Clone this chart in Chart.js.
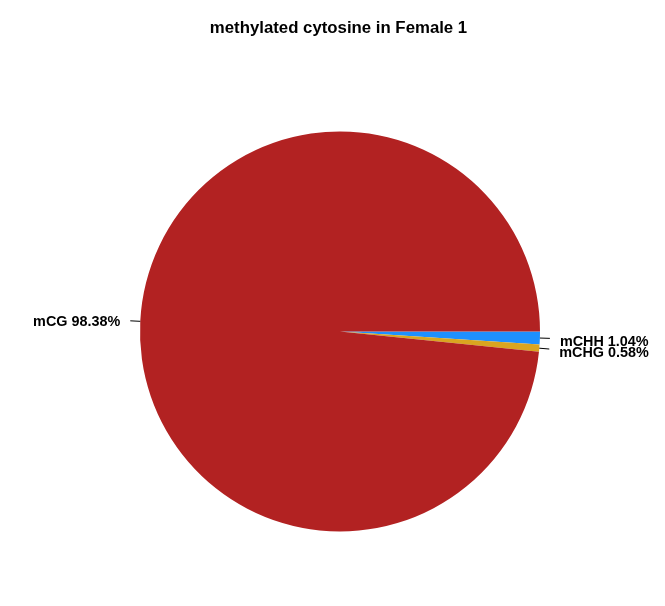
<!DOCTYPE html>
<html>
<head>
<meta charset="utf-8">
<script src="https://cdn.jsdelivr.net/npm/chart.js@4/dist/chart.umd.min.js"></script>
<style>
  html, body { margin: 0; padding: 0; background: #fff; }
  #wrap { width: 665px; height: 606px; }
</style>
</head>
<body>
<div id="wrap"><canvas id="pie" width="665" height="606"></canvas></div>
<script>
// slices in drawing order (clockwise from 3 o'clock)
const categories = ['mCHH', 'mCHG', 'mCG'];
const percents = [1.04, 0.58, 98.38];
const colors = ['#1E90FF', '#DAA520', '#B22222'];
const title = 'methylated cytosine in Female 1';

const font = "'Liberation Sans', Arial, sans-serif";

// outside labels with short leader lines, like base R pie()
const pieLabels = {
  id: 'pieLabels',
  afterDraw(chart) {
    const ctx = chart.ctx;
    const arcs = chart.getDatasetMeta(0).data;
    ctx.save();
    arcs.forEach((arc, i) => {
      const mid = (arc.startAngle + arc.endAngle) / 2;
      const r = arc.outerRadius;
      const c = Math.cos(mid), s = Math.sin(mid);
      ctx.strokeStyle = '#000';
      ctx.lineWidth = 1;
      ctx.beginPath();
      ctx.moveTo(arc.x + r * c, arc.y + r * s);
      ctx.lineTo(arc.x + r * 1.05 * c, arc.y + r * 1.05 * s);
      ctx.stroke();
      ctx.fillStyle = '#000';
      ctx.font = 'bold 14.4px ' + font;
      ctx.textAlign = c < 0 ? 'right' : 'left';
      ctx.textBaseline = 'middle';
      const dy = c < 0 ? 1.5 : 3;
      ctx.fillText(categories[i] + ' ' + percents[i].toFixed(2) + '%',
        arc.x + r * 1.1 * c, arc.y + r * 1.1 * s + dy);
    });
    ctx.font = 'bold 16.8px ' + font;
    ctx.textAlign = 'center';
    ctx.textBaseline = 'middle';
    ctx.fillText(title, 338.5, 28);
    ctx.restore();
  }
};

new Chart(document.getElementById('pie'), {
  type: 'pie',
  data: {
    labels: categories,
    datasets: [{
      data: percents,
      backgroundColor: colors,
      borderWidth: 0
    }]
  },
  options: {
    responsive: false,
    animation: false,
    rotation: 90,
    layout: { padding: { left: 140, right: 125, top: 131, bottom: 74 } },
    plugins: {
      legend: { display: false },
      tooltip: { enabled: false },
      title: { display: false }
    }
  },
  plugins: [pieLabels]
});
</script>
</body>
</html>
